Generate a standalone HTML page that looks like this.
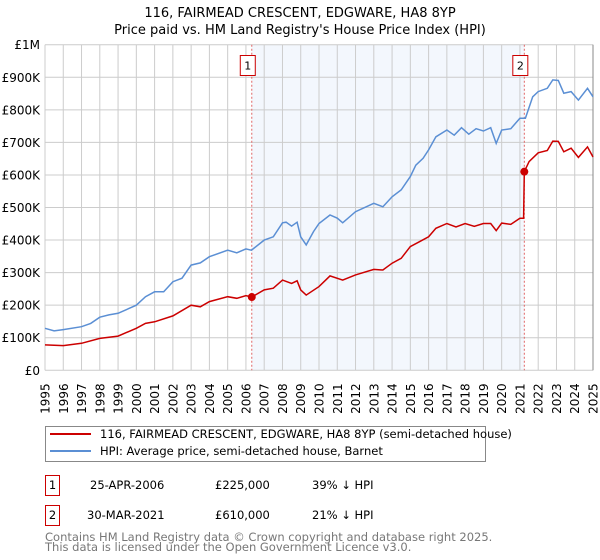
<!DOCTYPE html>
<html><head><meta charset="utf-8">
<style>
body{margin:0;background:#fff;}
svg{display:block;font-family:"DejaVu Sans","Liberation Sans",sans-serif;}
</style></head>
<body>
<svg id="chart" width="600" height="560" viewBox="0 0 600 560" xmlns="http://www.w3.org/2000/svg">
<text x="300" y="17" text-anchor="middle" font-size="13">116, FAIRMEAD CRESCENT, EDGWARE, HA8 8YP</text>
<text x="300" y="34" text-anchor="middle" font-size="13">Price paid vs. HM Land Registry's House Price Index (HPI)</text>
<g id="plot"></g>
<g>
<rect x="45.5" y="426.5" width="440" height="35" fill="#fff" stroke="#888"/>
<line x1="50" y1="434" x2="91" y2="434" stroke="#cc0000" stroke-width="2"/>
<text x="100" y="438" font-size="11.5">116, FAIRMEAD CRESCENT, EDGWARE, HA8 8YP (semi-detached house)</text>
<line x1="50" y1="451" x2="91" y2="451" stroke="#5b8fd4" stroke-width="2"/>
<text x="100" y="455" font-size="11.5">HPI: Average price, semi-detached house, Barnet</text>
</g>
<g font-size="11.5">
<rect x="45.5" y="475.5" width="14" height="20" fill="#fff" stroke="#cc0000"/>
<text x="52.5" y="489" text-anchor="middle">1</text>
<text x="90" y="489">25-APR-2006</text>
<text x="215" y="489">£225,000</text>
<text x="312" y="489">39% ↓ HPI</text>
<rect x="45.5" y="505.5" width="14" height="20" fill="#fff" stroke="#cc0000"/>
<text x="52.5" y="519" text-anchor="middle">2</text>
<text x="87" y="519">30-MAR-2021</text>
<text x="215" y="519">£610,000</text>
<text x="312" y="519">21% ↓ HPI</text>
</g>
<text x="45" y="541" font-size="11.5" fill="#777">Contains HM Land Registry data © Crown copyright and database right 2025.</text>
<text x="45" y="551" font-size="11.5" fill="#777">This data is licensed under the Open Government Licence v3.0.</text>
</svg>
<script>
const hpiYears=[1995,1995.5,1996,1997,1997.5,1998,1998.5,1999,2000,2000.5,2001,2001.5,2002,2002.5,2003,2003.5,2004,2005,2005.5,2006,2006.3,2007,2007.5,2008,2008.2,2008.5,2008.8,2009,2009.3,2009.7,2010,2010.6,2011,2011.3,2012,2013,2013.5,2014,2014.5,2015,2015.3,2015.7,2016,2016.4,2017,2017.4,2017.8,2018.2,2018.6,2019,2019.4,2019.7,2020,2020.5,2021,2021.3,2021.7,2022,2022.5,2022.8,2023.1,2023.4,2023.8,2024.2,2024.7,2025];
const hpiValues=[129,121,125,134,144,163,170,175,200,226,241,241,272,283,323,330,349,369,361,373,369,400,410,453,455,443,455,410,385,426,451,477,467,453,487,513,502,533,554,595,630,651,677,717,738,722,745,725,742,735,745,697,738,742,774,774,840,856,866,892,890,851,856,830,866,840];
const priceYears=[1995,1996,1997,1998,1999,2000,2000.5,2001,2002,2003,2003.5,2004,2005,2005.5,2006,2006.32,2007,2007.5,2008,2008.5,2008.8,2009,2009.3,2010,2010.6,2011.3,2012,2013,2013.5,2014,2014.5,2015,2015.5,2016,2016.4,2017,2017.5,2018,2018.5,2019,2019.4,2019.7,2020,2020.5,2021,2021.2,2021.24,2021.5,2022,2022.5,2022.8,2023.1,2023.4,2023.8,2024.2,2024.7,2025];
const priceValues=[78,76,83,98,105,129,144,149,167,200,195,211,226,221,229,225,247,252,277,267,275,247,231,257,290,277,293,310,308,329,344,380,395,410,436,451,440,451,442,451,451,429,452,448,467,467,610,641,668,675,704,703,671,682,654,686,655];
const saleYears=[2006.32,2021.24];
const saleValues=[225,610];
const saleLabels=["1","2"];
const yTicks=[0,100,200,300,400,500,600,700,800,900,1000];
const yTickLabels=["£0","£100K","£200K","£300K","£400K","£500K","£600K","£700K","£800K","£900K","£1M"];
const xTicks=[1995,1996,1997,1998,1999,2000,2001,2002,2003,2004,2005,2006,2007,2008,2009,2010,2011,2012,2013,2014,2015,2016,2017,2018,2019,2020,2021,2022,2023,2024,2025];

const X0=45,X1=593,Y0=370.3,Y1=44.7;
const xs=y=>X0+(y-1995)/30*(X1-X0);
const ys=v=>Y0-v/1000*(Y0-Y1);
const NS="http://www.w3.org/2000/svg";
const plot=document.getElementById('plot');
function mk(tag,attrs,parent){const e=document.createElementNS(NS,tag);for(const k in attrs)e.setAttribute(k,attrs[k]);(parent||plot).appendChild(e);return e;}

const shade=mk('rect',{x:xs(saleYears[0]),y:Y1,width:xs(saleYears[1])-xs(saleYears[0]),height:Y0-Y1,fill:'#eef3fc',opacity:'0.7'});


xTicks.forEach(t=>{const l=mk('line',{x1:xs(t),x2:xs(t),y1:Y1,y2:Y0,stroke:'#ccc','stroke-width':1});


const tx=mk('text',{x:0,y:0,'font-size':12,'text-anchor':'end',transform:`translate(${xs(t)+4.5},${Y0+13}) rotate(-90)`});
tx.textContent=t;

});
yTicks.forEach((t,i)=>{const l=mk('line',{x1:X0,x2:X1,y1:ys(t),y2:ys(t),stroke:'#ccc','stroke-width':1});


const tx=mk('text',{x:40,y:ys(t)+4.5,'font-size':12,'text-anchor':'end'});
tx.textContent=yTickLabels[i];

});
const ax=mk('line',{x1:X1,x2:X1,y1:Y1,y2:Y0,stroke:'#888','stroke-width':1});



saleYears.forEach((y,i)=>{const l=mk('line',{x1:xs(y),x2:xs(y),y1:Y1,y2:Y0,stroke:'#e06666','stroke-width':1,'stroke-dasharray':'2,2'});


const b=mk('rect',{x:xs(y)-11.5,y:55.5,width:15,height:20,fill:'#fff',stroke:'#cc0000'});


const t=mk('text',{x:xs(y)-4,y:69.5,'font-size':11,'text-anchor':'middle'});
t.textContent=saleLabels[i];

});

function line(xa,va,color,name){const p=mk('path',{d:xa.map((x,i)=>(i?'L':'M')+xs(x).toFixed(1)+','+ys(va[i]).toFixed(1)).join(''),fill:'none',stroke:color,'stroke-width':1.5});

}
line(hpiYears,hpiValues,'#5b8fd4','hpi-line');
line(priceYears,priceValues,'#cc0000','price-line');
saleYears.forEach((y,i)=>{const c=mk('circle',{cx:xs(y),cy:ys(saleValues[i]),r:4,fill:'#cc0000'});

});
</script>
</body></html>
